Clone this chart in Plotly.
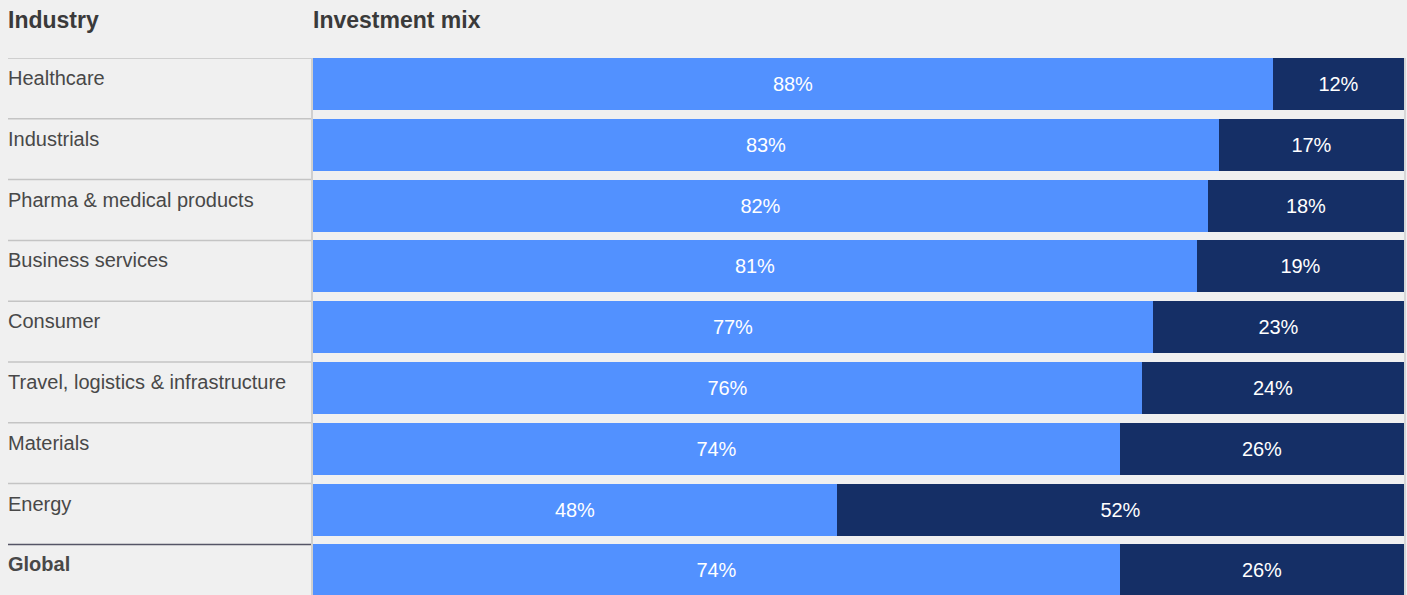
import plotly.graph_objects as go

categories = ["Healthcare", "Industrials", "Pharma & medical products", "Business services",
              "Consumer", "Travel, logistics & infrastructure", "Materials", "Energy", "Global"]
share_a = [88, 83, 82, 81, 77, 76, 74, 48, 74]
share_b = [12, 17, 18, 19, 23, 24, 26, 52, 26]

W, H = 1407, 595
LIGHT = "#5291FF"
NAVY = "#152F66"
BG = "#F0F0F0"
FONT = "Liberation Sans, Arial, sans-serif"

pitch = 60.8
bar_h = 52
half = bar_h / pitch / 2
top_px = 58
y_top = -half
y_bot = y_top + (H - top_px) / pitch

ys = list(range(len(categories)))

fig = go.Figure()
fig.add_trace(go.Bar(
    y=ys, x=share_a, orientation="h", width=bar_h / pitch,
    marker=dict(color=LIGHT, line=dict(width=0)),
    text=[f"{v}%" for v in share_a], textposition="inside", insidetextanchor="middle",
    textfont=dict(color="white", size=20, family=FONT), hoverinfo="skip",
))
fig.add_trace(go.Bar(
    y=ys, x=share_b, orientation="h", width=bar_h / pitch,
    marker=dict(color=NAVY, line=dict(width=0)),
    text=[f"{v}%" for v in share_b], textposition="inside", insidetextanchor="middle",
    textfont=dict(color="white", size=20, family=FONT), hoverinfo="skip",
))

x0p = 313 / W
x1p = 1404 / W

annotations = [
    dict(text="<b>Industry</b>", x=6 / W, y=1 - 20 / H, xref="paper", yref="paper",
         xanchor="left", yanchor="middle", showarrow=False,
         font=dict(size=23, color="#3a3a3a", family=FONT)),
    dict(text="<b>Investment mix</b>", x=311 / W, y=1 - 20 / H, xref="paper", yref="paper",
         xanchor="left", yanchor="middle", showarrow=False,
         font=dict(size=23, color="#3a3a3a", family=FONT)),
]
shapes = []
for i, c in enumerate(categories):
    label = f"<b>{c}</b>" if c == "Global" else c
    annotations.append(dict(
        text=label, x=6 / W, y=i - half + 20 / pitch, xref="paper", yref="y",
        xanchor="left", yanchor="middle", showarrow=False,
        font=dict(size=20, color="#484848", family=FONT)))
    shapes.append(dict(
        type="line", xref="paper", yref="y", x0=8 / W, x1=312 / W,
        y0=i - half, y1=i - half,
        line=dict(color="#555566" if c == "Global" else "#C4C4C4", width=1.5)))

shapes.append(dict(type="line", xref="paper", yref="paper", x0=312 / W, x1=312 / W,
                   y0=0, y1=1 - top_px / H, line=dict(color="#CFCFCF", width=2)))
shapes.append(dict(type="line", xref="paper", yref="paper", x0=1405 / W, x1=1405 / W,
                   y0=0, y1=1 - top_px / H, line=dict(color="#BDBDBD", width=1)))

fig.update_layout(
    width=W, height=H, barmode="stack", showlegend=False,
    paper_bgcolor=BG, plot_bgcolor=BG,
    margin=dict(l=0, r=0, t=0, b=0),
    bargap=0,
    xaxis=dict(domain=[x0p, x1p], range=[0, 100], visible=False, fixedrange=True),
    yaxis=dict(domain=[0, 1 - top_px / H], range=[y_bot, y_top], visible=False, fixedrange=True),
    annotations=annotations, shapes=shapes,
    uniformtext=dict(minsize=20, mode="show"),
)

fig.write_html("out.html", config={"displayModeBar": False})
